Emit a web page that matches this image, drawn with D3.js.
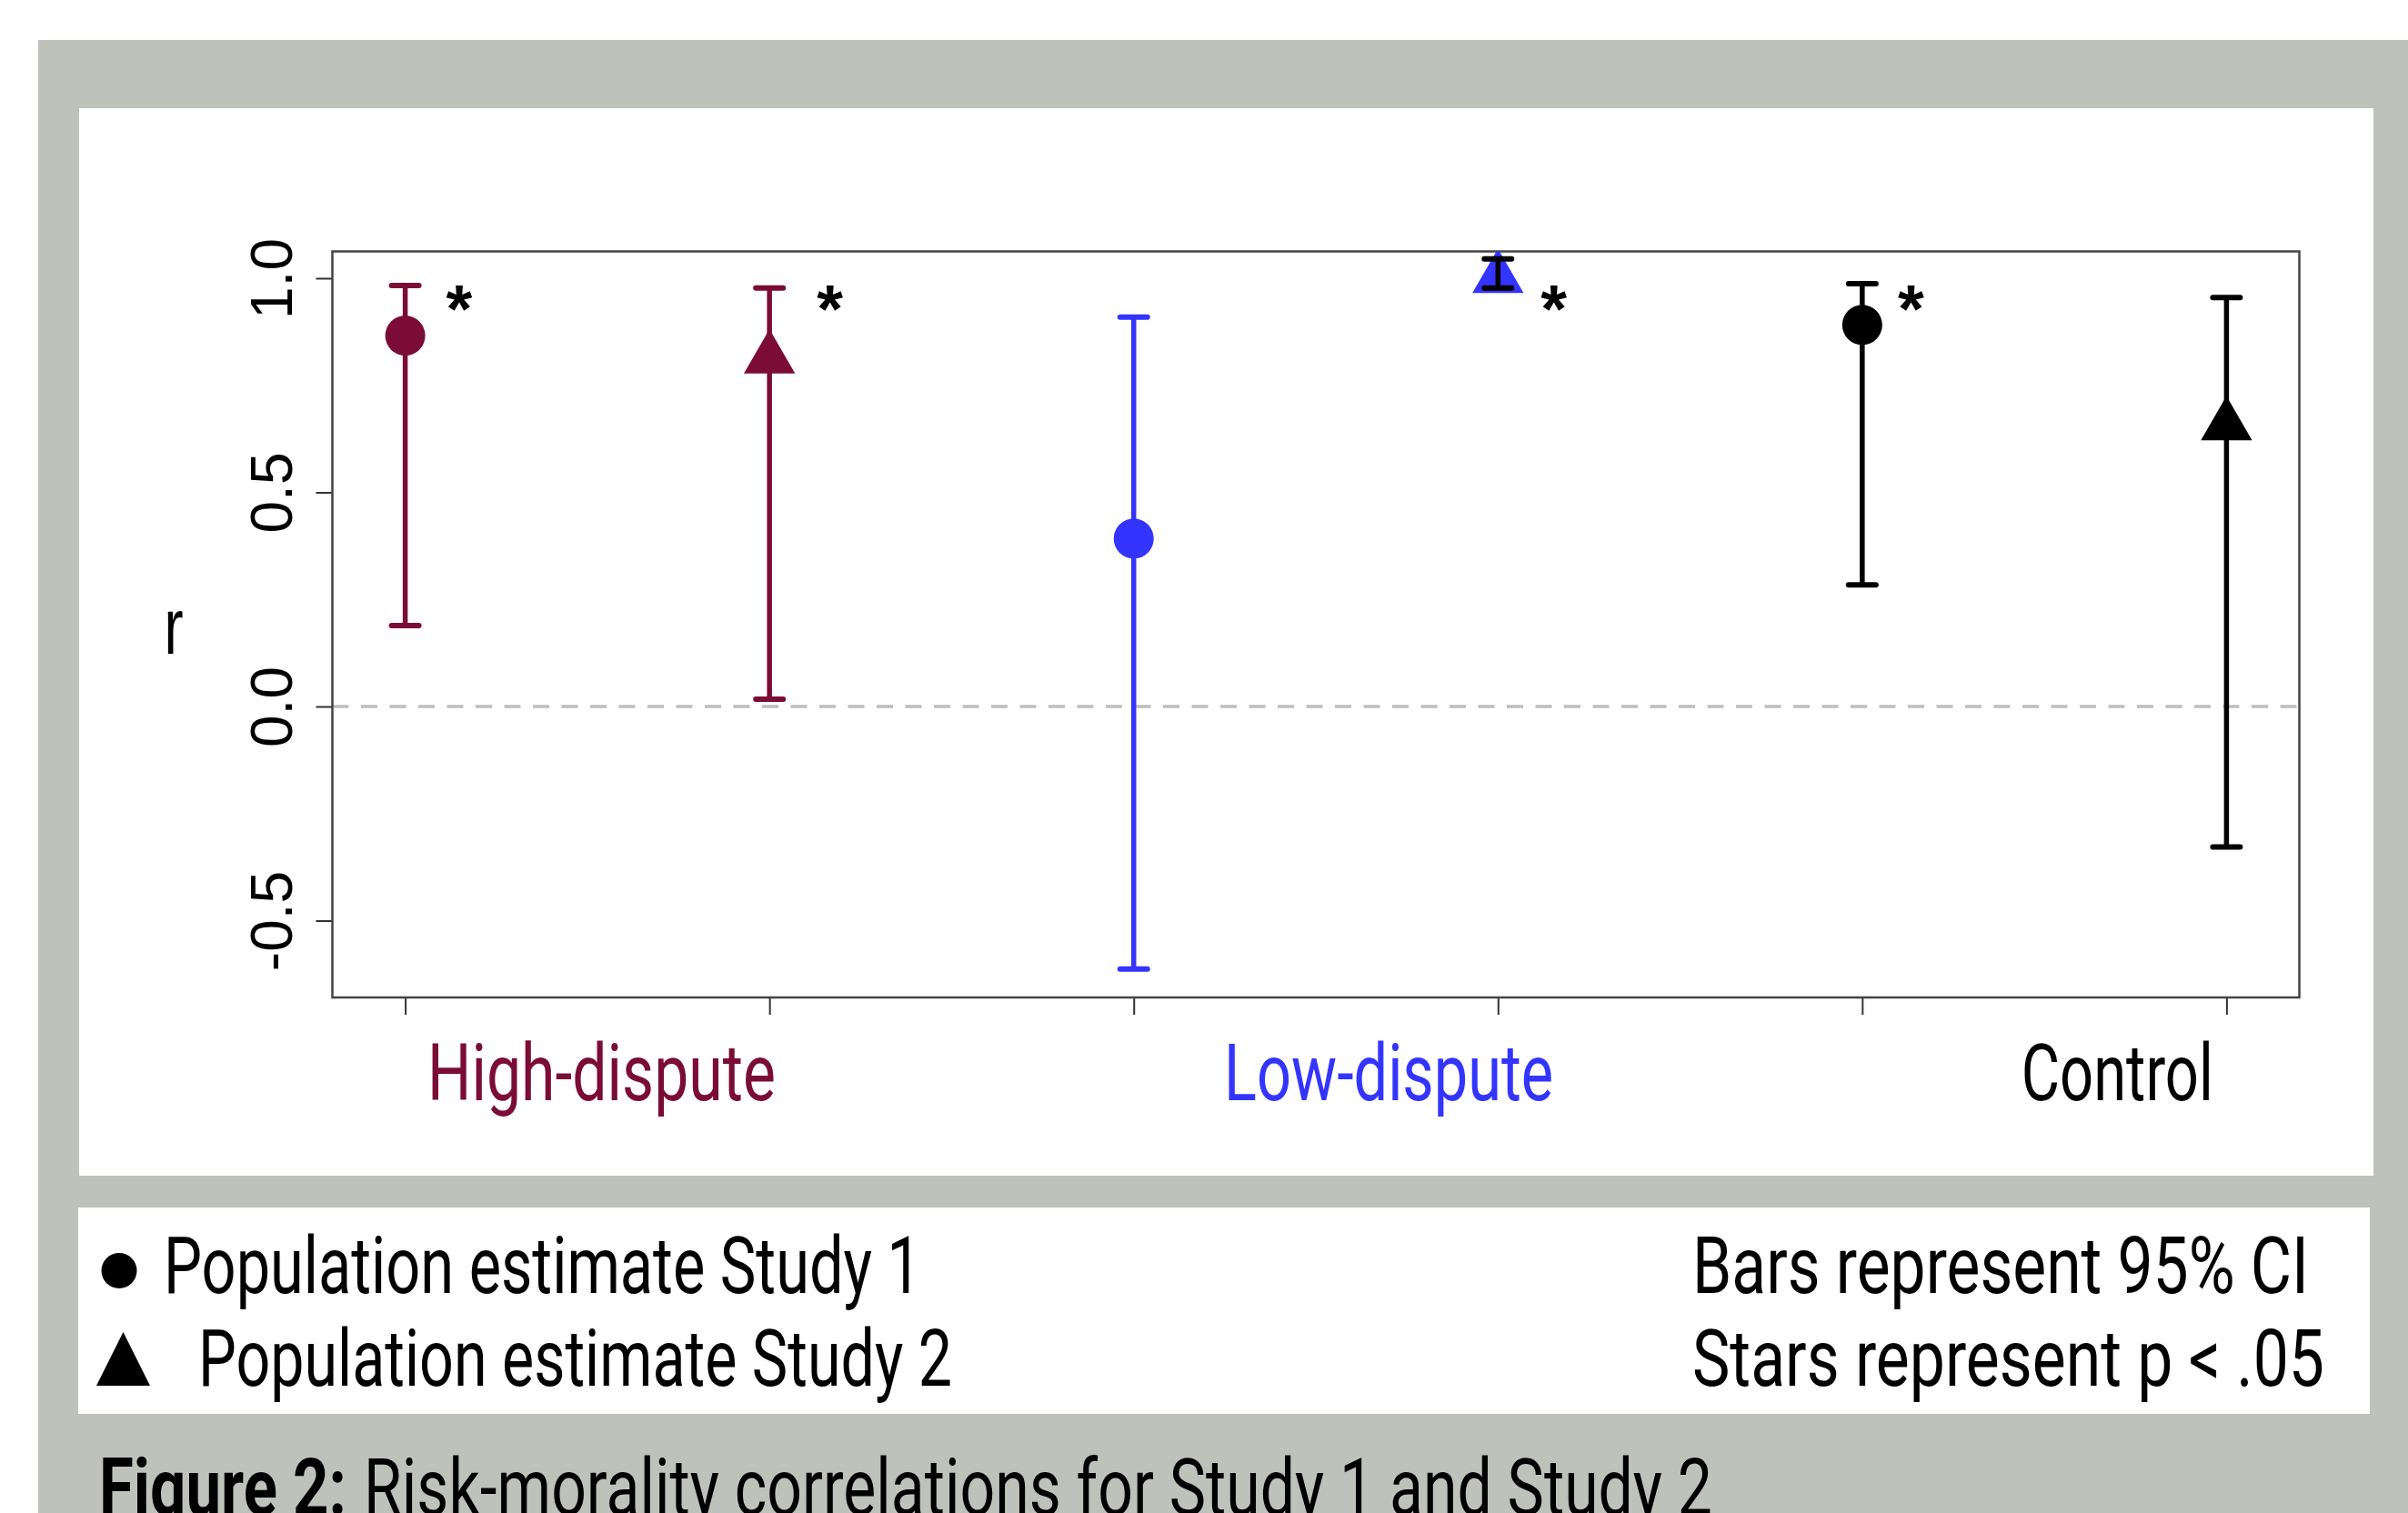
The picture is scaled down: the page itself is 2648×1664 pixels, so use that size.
<!DOCTYPE html>
<html>
<head>
<meta charset="utf-8">
<script src="https://cdn.jsdelivr.net/npm/d3@7"></script>
<style>
  html, body { margin: 0; padding: 0; background: #ffffff; }
  svg { display: block; }
</style>
</head>
<body>
<svg id="chart" width="2648" height="1664"></svg>
<script>
// ---------------- DATA ----------------
const positions   = [1, 2, 3, 4, 5, 6];
const groups      = ["High-dispute", "High-dispute", "Low-dispute", "Low-dispute", "Control", "Control"];
const studies     = [1, 2, 1, 2, 1, 2];
const estimates   = [0.866, 0.812, 0.392, 1.000, 0.891, 0.656];
const lowerCI     = [0.189, 0.017, -0.613, 0.977, 0.284, -0.328];
const upperCI     = [0.983, 0.977, 0.909, 1.045, 0.987, 0.955];
const significant = [true, true, false, true, true, false];
const starX       = [1.148, 2.166, null, 4.153, 5.134, null];
const starY       = 0.947;

const categoryLabels = ["High-dispute", "Low-dispute", "Control"];
const categoryLabelX = [1.539, 3.70, 5.70];

const yTicks = [-0.5, 0.0, 0.5, 1.0];
const xTicks = [1, 2, 3, 4, 5, 6];

const legendLeft  = ["Population estimate Study 1", "Population estimate Study 2"];
const legendRight = ["Bars represent 95% CI", "Stars represent p < .05"];
const captionBold = "Figure 2:";
const captionText = "Risk-morality correlations for Study 1 and Study 2";

// ---------------- STYLE ----------------
const groupColor = { "High-dispute": "#7a0c35", "Low-dispute": "#3434ff", "Control": "#000000" };
const grey = "#bfc2bb";
const condFont = "Roboto, 'Liberation Sans', Arial, sans-serif";
const rFont = "'Liberation Sans', Arial, Helvetica, sans-serif";

const svg = d3.select("#chart");

// background frame
svg.append("rect").attr("x", 0).attr("y", 0).attr("width", 2648).attr("height", 1664).attr("fill", "#ffffff");
svg.append("rect").attr("x", 42).attr("y", 44).attr("width", 2606).attr("height", 1620).attr("fill", grey);
svg.append("rect").attr("x", 87).attr("y", 119).attr("width", 2523).attr("height", 1174).attr("fill", "#ffffff");
svg.append("rect").attr("x", 86).attr("y", 1328).attr("width", 2520).attr("height", 227).attr("fill", "#ffffff");

// ---------------- SCALES ----------------
const plotL = 365.5, plotR = 2528.5, plotT = 276.5, plotB = 1097;
const x = d3.scaleLinear().domain([0.8, 6.2]).range([plotL, plotR]);
const y = d3.scaleLinear().domain([-0.6794, 1.0626]).range([plotB, plotT]);

// clip
svg.append("clipPath").attr("id", "plotclip")
  .append("rect").attr("x", plotL).attr("y", plotT).attr("width", plotR - plotL).attr("height", plotB - plotT);

// zero reference line
svg.append("line")
  .attr("x1", plotL).attr("x2", plotR)
  .attr("y1", y(0)).attr("y2", y(0))
  .attr("stroke", "#bebebe").attr("stroke-width", 3.5)
  .attr("stroke-dasharray", "18,13.5");

// axes
const yAxis = d3.axisLeft(y).tickValues(yTicks).tickFormat(d => d.toFixed(1)).tickSize(18).tickPadding(0);
const gy = svg.append("g").attr("transform", `translate(${plotL},0)`).call(yAxis);
gy.select(".domain").remove();
gy.selectAll(".tick line").attr("stroke", "#333").attr("stroke-width", 2);
gy.selectAll(".tick text")
  .attr("transform", "rotate(-90)")
  .attr("x", 0).attr("y", 321 - plotL).attr("dy", 0)
  .attr("text-anchor", "middle")
  .attr("font-family", rFont).attr("font-size", 64).attr("fill", "#000");

const xAxis = d3.axisBottom(x).tickValues(xTicks).tickFormat("").tickSize(19);
const gx = svg.append("g").attr("transform", `translate(0,${plotB})`).call(xAxis);
gx.select(".domain").remove();
gx.selectAll(".tick line").attr("stroke", "#333").attr("stroke-width", 2);

// plot box
svg.append("rect")
  .attr("x", plotL).attr("y", plotT).attr("width", plotR - plotL).attr("height", plotB - plotT)
  .attr("fill", "none").attr("stroke", "#444").attr("stroke-width", 2.5);

// y label
svg.append("text")
  .attr("transform", "translate(191,719) scale(0.72,1)")
  .attr("text-anchor", "middle")
  .attr("font-family", rFont).attr("font-size", 88).attr("fill", "#000")
  .text("r");

// ---------------- MARKS ----------------
const data = positions.map((p, i) => ({
  pos: p, group: groups[i], study: studies[i], est: estimates[i],
  lo: lowerCI[i], hi: upperCI[i], sig: significant[i], sx: starX[i]
}));

const marks = svg.append("g").attr("clip-path", "url(#plotclip)");
const capHalf = 15;

function drawBar(g, d, color) {
  g.append("line")
    .attr("x1", x(d.pos)).attr("x2", x(d.pos))
    .attr("y1", y(d.lo)).attr("y2", y(d.hi))
    .attr("stroke", color).attr("stroke-width", 5.5);
  [d.lo, d.hi].forEach(v => {
    g.append("line")
      .attr("x1", x(d.pos) - capHalf).attr("x2", x(d.pos) + capHalf)
      .attr("y1", y(v)).attr("y2", y(v))
      .attr("stroke", color).attr("stroke-width", 6).attr("stroke-linecap", "round");
  });
}

const circleSym = d3.symbol().type(d3.symbolCircle).size(Math.PI * 22 * 22);
function triPath(r) {
  const h = r * Math.sqrt(3) / 2;
  return `M0,${-r}L${h},${r / 2}L${-h},${r / 2}Z`;
}

// bars (the Low-dispute Study 2 bar is drawn on top of its marker, in black)
data.forEach((d, i) => { if (i !== 3) drawBar(marks, d, groupColor[d.group]); });

// points
data.forEach(d => {
  marks.append("path")
    .attr("transform", `translate(${x(d.pos)},${y(d.est)})`)
    .attr("d", d.study === 1 ? circleSym() : triPath(32.5))
    .attr("fill", groupColor[d.group]);
});
drawBar(marks, data[3], "#000000");

// significance stars
svg.append("g").selectAll("text")
  .data(data.filter(d => d.sig))
  .join("text")
  .attr("x", d => x(d.sx))
  .attr("y", y(starY) + 34)
  .attr("text-anchor", "middle")
  .attr("font-family", rFont).attr("font-size", 74).attr("font-weight", "bold").attr("fill", "#000")
  .text("*");

// category labels
const catWidths = [383, 362, 211];
categoryLabels.forEach((lab, i) => {
  svg.append("text")
    .attr("x", x(categoryLabelX[i]) - catWidths[i] / 2)
    .attr("y", 1210)
    .attr("textLength", catWidths[i]).attr("lengthAdjust", "spacingAndGlyphs")
    .attr("font-family", condFont).attr("font-size", 88)
    .attr("fill", groupColor[lab])
    .text(lab);
});

// ---------------- LEGEND ----------------
svg.append("circle").attr("cx", 131).attr("cy", 1397.5).attr("r", 19.5).attr("fill", "#000");
svg.append("path").attr("d", "M106,1524L165,1524L135.5,1465Z").attr("fill", "#000");

const legL = [{ x: 180, y: 1422, w: 833 }, { x: 218, y: 1524, w: 829 }];
legendLeft.forEach((t, i) => {
  svg.append("text")
    .attr("x", legL[i].x).attr("y", legL[i].y)
    .attr("textLength", legL[i].w).attr("lengthAdjust", "spacingAndGlyphs")
    .attr("font-family", condFont).attr("font-size", 88).attr("fill", "#000")
    .text(t);
});
const legR = [{ x: 1861, y: 1422, w: 678 }, { x: 1861, y: 1524, w: 695 }];
legendRight.forEach((t, i) => {
  svg.append("text")
    .attr("x", legR[i].x).attr("y", legR[i].y)
    .attr("textLength", legR[i].w).attr("lengthAdjust", "spacingAndGlyphs")
    .attr("font-family", condFont).attr("font-size", 88).attr("fill", "#000")
    .text(t);
});

// ---------------- CAPTION ----------------
svg.append("text")
  .attr("x", 109).attr("y", 1666)
  .attr("textLength", 272).attr("lengthAdjust", "spacingAndGlyphs")
  .attr("font-family", condFont).attr("font-size", 88).attr("font-weight", "bold").attr("fill", "#000")
  .text(captionBold);
svg.append("text")
  .attr("x", 400).attr("y", 1666)
  .attr("textLength", 1483).attr("lengthAdjust", "spacingAndGlyphs")
  .attr("font-family", condFont).attr("font-size", 88).attr("fill", "#000")
  .text(captionText);
</script>
</body>
</html>
